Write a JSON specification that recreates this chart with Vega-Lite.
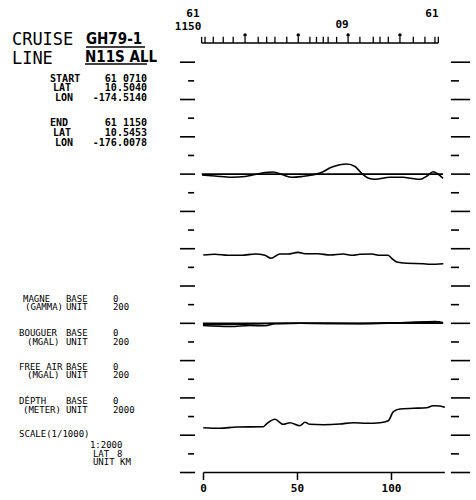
{
  "$schema": "https://vega.github.io/schema/vega-lite/v6.json",
  "width": 476,
  "height": 500,
  "autosize": {"type": "fit", "contains": "padding"},
  "padding": 0,
  "background": "white",
  "config": {"view": {"stroke": null}, "text": {"font": "DejaVu Sans Mono", "color": "black"}},
  "datasets": {
    "major": [{"u": 0}, {"u": 1}, {"u": 2}, {"u": 3}, {"u": 4}, {"u": 5}, {"u": 6}, {"u": 7}, {"u": 8}, {"u": 9}, {"u": 10}, {"u": 11}],
    "minor": [{"u": 0.5}, {"u": 1.5}, {"u": 2.5}, {"u": 3.5}, {"u": 4.5}, {"u": 5.5}, {"u": 6.5}, {"u": 7.5}, {"u": 8.5}, {"u": 9.5}, {"u": 10.5}],
    "frame": [
      {"name": "track line", "from": -1.0, "to": 124.9, "at": 11.515},
      {"name": "km axis", "from": 0, "to": 128.4, "at": 0},
      {"name": "magne base", "from": -0.9, "to": 127.4, "at": 8.0},
      {"name": "gravity base", "from": -0.3, "to": 127.5, "at": 4.0},
      {"name": "underline GH79-1", "from": -62.5, "to": -31.1, "at": 11.408},
      {"name": "underline N11S ALL", "from": -63.0, "to": -30.1, "at": 10.952}
    ],
    "track": [
      {"km": -1.0, "dot": false}, {"km": 0.8, "dot": false}, {"km": 5.2, "dot": false}, {"km": 10.5, "dot": false},
      {"km": 15.8, "dot": false}, {"km": 22.1, "dot": true}, {"km": 29.1, "dot": false}, {"km": 33.6, "dot": false},
      {"km": 38.0, "dot": false}, {"km": 44.3, "dot": false}, {"km": 50.4, "dot": true}, {"km": 56.6, "dot": false},
      {"km": 60.1, "dot": false}, {"km": 63.7, "dot": false}, {"km": 66.3, "dot": false}, {"km": 70.8, "dot": false},
      {"km": 76.9, "dot": true}, {"km": 83.2, "dot": false}, {"km": 90.3, "dot": false}, {"km": 93.9, "dot": false},
      {"km": 98.3, "dot": false}, {"km": 104.5, "dot": true}, {"km": 111.6, "dot": false}, {"km": 117.8, "dot": false},
      {"km": 123.1, "dot": false}, {"km": 124.9, "dot": false}
    ],
    "kmTicks": [{"km": 0, "label": "0"}, {"km": 50, "label": "50"}, {"km": 100, "label": "100"}],
    "profiles": [
      {"series": "MAGNE", "km": -0.8, "v": 7.976}, {"series": "MAGNE", "km": 6.1, "v": 7.949}, {"series": "MAGNE", "km": 15.0, "v": 7.914},
      {"series": "MAGNE", "km": 22.1, "v": 7.936}, {"series": "MAGNE", "km": 27.4, "v": 7.989}, {"series": "MAGNE", "km": 32.7, "v": 8.043},
      {"series": "MAGNE", "km": 37.0, "v": 8.056}, {"series": "MAGNE", "km": 41.8, "v": 7.989}, {"series": "MAGNE", "km": 47.1, "v": 7.914},
      {"series": "MAGNE", "km": 52.4, "v": 7.936}, {"series": "MAGNE", "km": 57.7, "v": 7.976}, {"series": "MAGNE", "km": 62.0, "v": 8.029},
      {"series": "MAGNE", "km": 68.4, "v": 8.190}, {"series": "MAGNE", "km": 76.2, "v": 8.271}, {"series": "MAGNE", "km": 80.6, "v": 8.204},
      {"series": "MAGNE", "km": 84.1, "v": 8.021}, {"series": "MAGNE", "km": 87.5, "v": 7.895}, {"series": "MAGNE", "km": 91.2, "v": 7.861},
      {"series": "MAGNE", "km": 99.2, "v": 7.914}, {"series": "MAGNE", "km": 106.1, "v": 7.914}, {"series": "MAGNE", "km": 110.9, "v": 7.882},
      {"series": "MAGNE", "km": 115.2, "v": 7.861}, {"series": "MAGNE", "km": 118.9, "v": 7.949}, {"series": "MAGNE", "km": 122.1, "v": 8.064},
      {"series": "MAGNE", "km": 124.7, "v": 8.003}, {"series": "MAGNE", "km": 127.4, "v": 7.887},

      {"series": "BOUGUER", "km": -0.1, "v": 5.831}, {"series": "BOUGUER", "km": 6.1, "v": 5.850}, {"series": "BOUGUER", "km": 13.0, "v": 5.823},
      {"series": "BOUGUER", "km": 20.3, "v": 5.823}, {"series": "BOUGUER", "km": 27.4, "v": 5.858}, {"series": "BOUGUER", "km": 32.7, "v": 5.823},
      {"series": "BOUGUER", "km": 35.9, "v": 5.743}, {"series": "BOUGUER", "km": 40.7, "v": 5.858}, {"series": "BOUGUER", "km": 44.9, "v": 5.858},
      {"series": "BOUGUER", "km": 50.3, "v": 5.903}, {"series": "BOUGUER", "km": 54.0, "v": 5.866}, {"series": "BOUGUER", "km": 60.9, "v": 5.866},
      {"series": "BOUGUER", "km": 67.3, "v": 5.831}, {"series": "BOUGUER", "km": 74.2, "v": 5.858}, {"series": "BOUGUER", "km": 79.5, "v": 5.823},
      {"series": "BOUGUER", "km": 83.2, "v": 5.850}, {"series": "BOUGUER", "km": 89.5, "v": 5.858}, {"series": "BOUGUER", "km": 93.9, "v": 5.823},
      {"series": "BOUGUER", "km": 98.1, "v": 5.823}, {"series": "BOUGUER", "km": 100.1, "v": 5.743}, {"series": "BOUGUER", "km": 102.8, "v": 5.643},
      {"series": "BOUGUER", "km": 108.1, "v": 5.609}, {"series": "BOUGUER", "km": 116.8, "v": 5.598}, {"series": "BOUGUER", "km": 120.5, "v": 5.582},
      {"series": "BOUGUER", "km": 127.6, "v": 5.598},

      {"series": "FREE AIR", "km": -0.3, "v": 3.941}, {"series": "FREE AIR", "km": 14.1, "v": 3.914}, {"series": "FREE AIR", "km": 24.7, "v": 3.941},
      {"series": "FREE AIR", "km": 32.7, "v": 3.933}, {"series": "FREE AIR", "km": 38.0, "v": 3.987}, {"series": "FREE AIR", "km": 51.3, "v": 4.000},
      {"series": "FREE AIR", "km": 77.9, "v": 3.995}, {"series": "FREE AIR", "km": 93.9, "v": 4.008}, {"series": "FREE AIR", "km": 109.8, "v": 4.021},
      {"series": "FREE AIR", "km": 123.1, "v": 4.048}, {"series": "FREE AIR", "km": 127.4, "v": 4.021},

      {"series": "GRAVITY", "km": -0.3, "v": 3.968}, {"series": "GRAVITY", "km": 19.4, "v": 3.973}, {"series": "GRAVITY", "km": 30.1, "v": 3.987},
      {"series": "GRAVITY", "km": 51.3, "v": 4.000}, {"series": "GRAVITY", "km": 83.2, "v": 3.987}, {"series": "GRAVITY", "km": 104.5, "v": 4.013},
      {"series": "GRAVITY", "km": 125.8, "v": 4.040},

      {"series": "DEPTH", "km": -0.1, "v": 1.201}, {"series": "DEPTH", "km": 8.8, "v": 1.185}, {"series": "DEPTH", "km": 17.7, "v": 1.220},
      {"series": "DEPTH", "km": 31.8, "v": 1.228}, {"series": "DEPTH", "km": 33.9, "v": 1.319}, {"series": "DEPTH", "km": 38.0, "v": 1.426},
      {"series": "DEPTH", "km": 42.4, "v": 1.292}, {"series": "DEPTH", "km": 46.0, "v": 1.335}, {"series": "DEPTH", "km": 51.3, "v": 1.255},
      {"series": "DEPTH", "km": 54.0, "v": 1.346}, {"series": "DEPTH", "km": 56.6, "v": 1.292}, {"series": "DEPTH", "km": 63.7, "v": 1.282},
      {"series": "DEPTH", "km": 72.6, "v": 1.300}, {"series": "DEPTH", "km": 79.7, "v": 1.335}, {"series": "DEPTH", "km": 86.8, "v": 1.319},
      {"series": "DEPTH", "km": 93.9, "v": 1.335}, {"series": "DEPTH", "km": 98.3, "v": 1.389}, {"series": "DEPTH", "km": 101.0, "v": 1.630},
      {"series": "DEPTH", "km": 104.5, "v": 1.702}, {"series": "DEPTH", "km": 111.6, "v": 1.721}, {"series": "DEPTH", "km": 118.7, "v": 1.737},
      {"series": "DEPTH", "km": 122.2, "v": 1.791}, {"series": "DEPTH", "km": 125.8, "v": 1.783}, {"series": "DEPTH", "km": 128.4, "v": 1.748}
    ],
    "labels": [
      {"text": "CRUISE", "km": -101.9, "u": 11.595, "group": "title"},
      {"text": "LINE", "km": -101.9, "u": 11.086, "group": "title"},
      {"text": "GH79-1", "km": -62.5, "u": 11.622, "group": "id"},
      {"text": "N11S ALL", "km": -63.0, "u": 11.139, "group": "id"},
      {"text": "START", "km": -81.6, "u": 10.563, "group": "info"},
      {"text": "LAT", "km": -80.05, "u": 10.305, "group": "info"},
      {"text": "LON", "km": -78.99, "u": 10.040, "group": "info"},
      {"text": "END", "km": -81.6, "u": 9.357, "group": "info"},
      {"text": "LAT", "km": -80.05, "u": 9.100, "group": "info"},
      {"text": "LON", "km": -78.99, "u": 8.834, "group": "info"},
      {"text": "61 0710", "km": -30.05, "u": 10.563, "group": "value"},
      {"text": "10.5040", "km": -30.05, "u": 10.305, "group": "value"},
      {"text": "-174.5140", "km": -30.05, "u": 10.040, "group": "value"},
      {"text": "61 1150", "km": -30.05, "u": 9.357, "group": "value"},
      {"text": "10.5453", "km": -30.05, "u": 9.100, "group": "value"},
      {"text": "-176.0078", "km": -30.05, "u": 8.834, "group": "value"},
      {"text": "MAGNE", "km": -96.0, "u": 4.651, "group": "legend"},
      {"text": "BASE", "km": -73.2, "u": 4.651, "group": "legend"},
      {"text": "0", "km": -48.2, "u": 4.651, "group": "legend"},
      {"text": "(GAMMA)", "km": -94.9, "u": 4.424, "group": "legend"},
      {"text": "UNIT", "km": -73.2, "u": 4.424, "group": "legend"},
      {"text": "200", "km": -48.2, "u": 4.424, "group": "legend"},
      {"text": "BOUGUER", "km": -98.1, "u": 3.740, "group": "legend"},
      {"text": "BASE", "km": -73.2, "u": 3.740, "group": "legend"},
      {"text": "0", "km": -48.2, "u": 3.740, "group": "legend"},
      {"text": "(MGAL)", "km": -93.9, "u": 3.512, "group": "legend"},
      {"text": "UNIT", "km": -73.2, "u": 3.512, "group": "legend"},
      {"text": "200", "km": -48.2, "u": 3.512, "group": "legend"},
      {"text": "FREE AIR", "km": -98.1, "u": 2.828, "group": "legend"},
      {"text": "BASE", "km": -73.2, "u": 2.828, "group": "legend"},
      {"text": "0", "km": -48.2, "u": 2.828, "group": "legend"},
      {"text": "(MGAL)", "km": -93.9, "u": 2.601, "group": "legend"},
      {"text": "UNIT", "km": -73.2, "u": 2.601, "group": "legend"},
      {"text": "200", "km": -48.2, "u": 2.601, "group": "legend"},
      {"text": "DÉPTH", "km": -98.1, "u": 1.917, "group": "legend"},
      {"text": "BASE", "km": -73.2, "u": 1.917, "group": "legend"},
      {"text": "0", "km": -48.2, "u": 1.917, "group": "legend"},
      {"text": "(METER)", "km": -96.0, "u": 1.689, "group": "legend"},
      {"text": "UNIT", "km": -73.2, "u": 1.689, "group": "legend"},
      {"text": "2000", "km": -48.2, "u": 1.689, "group": "legend"},
      {"text": "SCALE(1/1000)", "km": -98.1, "u": 1.032, "group": "legend"},
      {"text": "1:2000", "km": -60.4, "u": 0.737, "group": "legend"},
      {"text": "LAT", "km": -58.8, "u": 0.509, "group": "legend"},
      {"text": "8", "km": -46.0, "u": 0.509, "group": "legend"},
      {"text": "UNIT KM", "km": -58.8, "u": 0.282, "group": "legend"},
      {"text": "61", "km": -5.6, "u": 12.306, "group": "track"},
      {"text": "1150", "km": -8.2, "u": 11.957, "group": "track"},
      {"text": "09", "km": 73.7, "u": 11.997, "group": "track"},
      {"text": "61", "km": 121.5, "u": 12.306, "group": "track"}
    ]
  },
  "layer": [
    {
      "data": {"name": "major"},
      "mark": {"type": "rule", "strokeWidth": 1.6, "color": "black"},
      "encoding": {
        "x": {"datum": -12.5, "type": "quantitative", "scale": {"domain": [-108.24, 144.95], "nice": false, "zero": false}, "axis": null},
        "x2": {"datum": -4.5},
        "y": {"field": "u", "type": "quantitative", "scale": {"domain": [-0.737, 12.668], "nice": false, "zero": false}, "axis": null}
      }
    },
    {
      "data": {"name": "minor"},
      "mark": {"type": "rule", "strokeWidth": 1.6, "color": "black"},
      "encoding": {
        "x": {"datum": -8.2, "type": "quantitative"},
        "x2": {"datum": -5.0},
        "y": {"field": "u", "type": "quantitative"}
      }
    },
    {
      "data": {"name": "major"},
      "mark": {"type": "rule", "strokeWidth": 1.6, "color": "black"},
      "encoding": {
        "x": {"datum": 131.6, "type": "quantitative"},
        "x2": {"datum": 141.8},
        "y": {"field": "u", "type": "quantitative"}
      }
    },
    {
      "data": {"name": "minor"},
      "mark": {"type": "rule", "strokeWidth": 1.6, "color": "black"},
      "encoding": {
        "x": {"datum": 131.6, "type": "quantitative"},
        "x2": {"datum": 135.9},
        "y": {"field": "u", "type": "quantitative"}
      }
    },
    {
      "data": {"name": "frame"},
      "mark": {"type": "rule", "strokeWidth": 1.6, "color": "black"},
      "encoding": {
        "x": {"field": "from", "type": "quantitative"},
        "x2": {"field": "to"},
        "y": {"field": "at", "type": "quantitative"}
      }
    },
    {
      "data": {"name": "track"},
      "mark": {"type": "rule", "strokeWidth": 1.3, "color": "black"},
      "encoding": {
        "x": {"field": "km", "type": "quantitative"},
        "y": {"datum": 11.515, "type": "quantitative"},
        "y2": {"datum": 11.68}
      }
    },
    {
      "data": {"name": "track"},
      "transform": [{"filter": "datum.dot"}],
      "mark": {"type": "point", "filled": true, "size": 12, "color": "black", "opacity": 1},
      "encoding": {
        "x": {"field": "km", "type": "quantitative"},
        "y": {"datum": 11.73, "type": "quantitative"}
      }
    },
    {
      "data": {"name": "kmTicks"},
      "mark": {"type": "rule", "strokeWidth": 1.5, "color": "black"},
      "encoding": {
        "x": {"field": "km", "type": "quantitative"},
        "y": {"datum": 0, "type": "quantitative"},
        "y2": {"datum": -0.2}
      }
    },
    {
      "data": {"name": "kmTicks"},
      "mark": {"type": "text", "fontSize": 11, "align": "center", "baseline": "middle", "fontWeight": "bold"},
      "encoding": {
        "x": {"field": "km", "type": "quantitative"},
        "y": {"datum": -0.44, "type": "quantitative"},
        "text": {"field": "label"}
      }
    },
    {
      "data": {"name": "profiles"},
      "mark": {"type": "line", "strokeWidth": 1.6, "color": "black", "interpolate": "monotone"},
      "encoding": {
        "x": {"field": "km", "type": "quantitative"},
        "y": {"field": "v", "type": "quantitative"},
        "detail": {"field": "series"}
      }
    },
    {
      "data": {"name": "labels"},
      "transform": [{"filter": "datum.group === 'title'"}],
      "mark": {"type": "text", "fontSize": 17, "align": "left", "baseline": "middle", "font": "DejaVu Sans Mono"},
      "encoding": {
        "x": {"field": "km", "type": "quantitative"},
        "y": {"field": "u", "type": "quantitative"},
        "text": {"field": "text"}
      }
    },
    {
      "data": {"name": "labels"},
      "transform": [{"filter": "datum.group === 'id'"}],
      "mark": {"type": "text", "fontSize": 15, "align": "left", "baseline": "middle", "fontWeight": "bold", "font": "DejaVu Sans Condensed, DejaVu Sans"},
      "encoding": {
        "x": {"field": "km", "type": "quantitative"},
        "y": {"field": "u", "type": "quantitative"},
        "text": {"field": "text"}
      }
    },
    {
      "data": {"name": "labels"},
      "transform": [{"filter": "datum.group === 'info'"}],
      "mark": {"type": "text", "fontSize": 10, "align": "left", "baseline": "middle", "fontWeight": "bold"},
      "encoding": {
        "x": {"field": "km", "type": "quantitative"},
        "y": {"field": "u", "type": "quantitative"},
        "text": {"field": "text"}
      }
    },
    {
      "data": {"name": "labels"},
      "transform": [{"filter": "datum.group === 'value'"}],
      "mark": {"type": "text", "fontSize": 10, "align": "right", "baseline": "middle", "fontWeight": "bold"},
      "encoding": {
        "x": {"field": "km", "type": "quantitative"},
        "y": {"field": "u", "type": "quantitative"},
        "text": {"field": "text"}
      }
    },
    {
      "data": {"name": "labels"},
      "transform": [{"filter": "datum.group === 'legend'"}],
      "mark": {"type": "text", "fontSize": 9, "align": "left", "baseline": "middle"},
      "encoding": {
        "x": {"field": "km", "type": "quantitative"},
        "y": {"field": "u", "type": "quantitative"},
        "text": {"field": "text"}
      }
    },
    {
      "data": {"name": "labels"},
      "transform": [{"filter": "datum.group === 'track'"}],
      "mark": {"type": "text", "fontSize": 11, "align": "center", "baseline": "middle", "fontWeight": "bold"},
      "encoding": {
        "x": {"field": "km", "type": "quantitative"},
        "y": {"field": "u", "type": "quantitative"},
        "text": {"field": "text"}
      }
    }
  ]
}
